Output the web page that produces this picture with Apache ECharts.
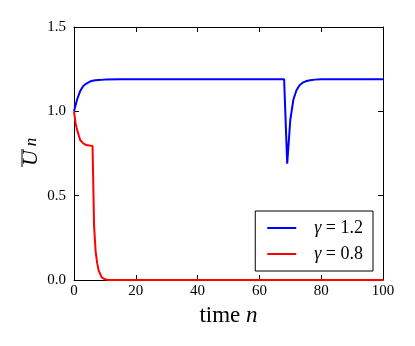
<!DOCTYPE html>
<html>
<head>
<meta charset="utf-8">
<title>ECharts</title>
<script src="https://cdn.jsdelivr.net/npm/echarts@6/dist/echarts.min.js"></script>
</head>
<body style="margin:0;background:#fff">
	<div id="main" style="width: 415px; height: 346px;"></div>
	<script type="text/javascript">
		var myChart = echarts.init(document.getElementById('main'));

		// gamma = 1.2
		var blueN = [0, 1, 2, 3, 4, 5, 6, 7, 8, 10, 15, 30, 68, 69, 70, 71, 72, 73, 74, 75, 76, 77, 78, 80, 85, 100];
		var blueU = [1.0, 1.07, 1.12, 1.15, 1.165, 1.175, 1.181, 1.184, 1.186, 1.188, 1.19, 1.19, 1.19, 0.69, 0.95, 1.07, 1.125, 1.155, 1.17, 1.178, 1.183, 1.186, 1.188, 1.19, 1.19, 1.19];
		// gamma = 0.8
		var redN = [0, 0.5, 1, 1.5, 2, 3, 4, 5, 6, 6.5, 7, 7.5, 8, 9, 10, 11, 20, 100];
		var redU = [1.0, 0.93, 0.89, 0.86, 0.83, 0.81, 0.80, 0.797, 0.795, 0.32, 0.17, 0.1, 0.055, 0.015, 0.004, 0, 0, 0];

		var xTicks = [0, 100, 20];
		var yTicks = [0, 1.5, 0.5];
		var names = ['γ = 1.2', 'γ = 0.8'];

		var zip = function(a, b) {
			var res = [];
			for (var i = 0; i < a.length; i++) {
				res.push([a[i], b[i]]);
			}
			return res;
		};

		var serif = 'Liberation Serif';
		var tick = { show: true, inside: true, length: 5, lineStyle: { color: '#000', width: 1 } };
		var line = { show: true, onZero: false, lineStyle: { color: '#000', width: 1 } };

		var option = {
			backgroundColor: '#fff',
			animation: false,
			grid: { left: 74, right: 32, top: 27, bottom: 66 },
			legend: {
				orient: 'vertical',
				right: 42,
				bottom: 75,
				backgroundColor: '#fff',
				borderColor: '#000',
				borderWidth: 1,
				borderRadius: 0,
				padding: [8, 10, 8, 12],
				itemGap: 8,
				itemWidth: 29,
				itemHeight: 2,
				icon: 'rect',
				data: names,
				formatter: function(name) {
					var p = name.split(' = ');
					return '{g|' + p[0] + '}{t| = ' + p[1] + '}';
				},
				textStyle: {
					rich: {
						g: { fontFamily: serif, fontStyle: 'italic', fontSize: 18, color: '#000', padding: [0, 0, 0, 13], lineHeight: 20 },
						t: { fontFamily: serif, fontSize: 18, color: '#000', lineHeight: 20 }
					}
				}
			},
			xAxis: [{
				type: 'value',
				min: xTicks[0], max: xTicks[1], interval: xTicks[2],
				axisLine: line, axisTick: tick,
				splitLine: { show: false },
				axisLabel: { color: '#000', fontFamily: serif, fontSize: 15, margin: 4 },
				name: '{a|time }{b|n}',
				nameLocation: 'middle',
				nameGap: 24,
				nameTextStyle: {
					rich: {
						a: { fontFamily: serif, fontSize: 23, color: '#000' },
						b: { fontFamily: serif, fontSize: 23, fontStyle: 'italic', color: '#000' }
					}
				}
			}, {
				type: 'value', position: 'top',
				min: xTicks[0], max: xTicks[1], interval: xTicks[2],
				axisLine: line, axisTick: tick,
				splitLine: { show: false },
				axisLabel: { show: false }
			}],
			yAxis: [{
				type: 'value',
				min: yTicks[0], max: yTicks[1], interval: yTicks[2],
				axisLine: line, axisTick: tick,
				splitLine: { show: false },
				axisLabel: {
					color: '#000', fontFamily: serif, fontSize: 15, margin: 8,
					formatter: function(v) { return v.toFixed(1); }
				}
			}, {
				type: 'value', position: 'right',
				min: yTicks[0], max: yTicks[1], interval: yTicks[2],
				axisLine: line, axisTick: tick,
				splitLine: { show: false },
				axisLabel: { show: false }
			}],
			graphic: [{
				type: 'group',
				x: 31,
				y: 158,
				rotation: Math.PI / 2,
				children: [{
					type: 'text',
					x: 0, y: 0,
					style: { text: 'U', font: 'italic 22px "Liberation Serif"', fill: '#000', align: 'center', verticalAlign: 'middle' }
				}, {
					type: 'text',
					x: 16, y: 1,
					style: { text: 'n', font: 'italic 17px "Liberation Serif"', fill: '#000', align: 'center', verticalAlign: 'middle' }
				}, {
					type: 'line',
					shape: { x1: -9, y1: -9, x2: 9, y2: -9 },
					style: { stroke: '#000', lineWidth: 1 }
				}]
			}],
			series: [{
				name: names[0],
				type: 'line',
				showSymbol: false,
				color: '#0000ff',
				lineStyle: { width: 2, color: '#0000ff' },
				data: zip(blueN, blueU)
			}, {
				name: names[1],
				type: 'line',
				showSymbol: false,
				color: '#ff0000',
				lineStyle: { width: 2, color: '#ff0000' },
				data: zip(redN, redU)
			}]
		};

		myChart.setOption(option);
	</script>
</body>
</html>
